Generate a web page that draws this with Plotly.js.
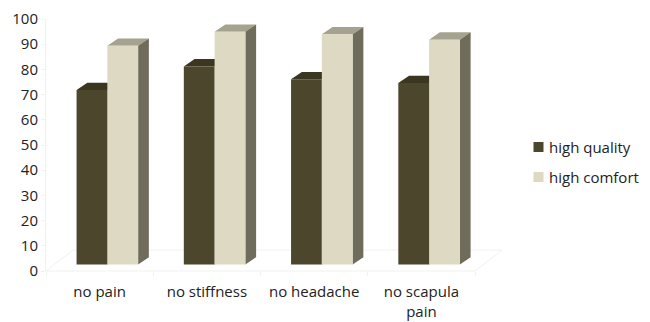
<!DOCTYPE html>
<html>
<head>
<meta charset="utf-8">
<script src="https://cdn.plot.ly/plotly-3.0.1.min.js"></script>
<style>html,body{margin:0;padding:0;background:#fff}#chart{width:650px;height:322px}</style>
</head>
<body>
<div id="chart"></div>
<script>
// Symptom outcomes by group
const categories = ['no pain', 'no stiffness', 'no headache', 'no scapula<br>pain'];
const seriesNames = ['high quality', 'high comfort'];
const highQuality = [69.2, 78.6, 73.5, 72];
const highComfort = [86.8, 92.3, 91.3, 89.2];
const yTicks = [0, 10, 20, 30, 40, 50, 60, 70, 80, 90, 100];

// Pseudo-3D projection, in axis units
const barWidth = 0.287;
const groupShift = 0.072;
const frontRise = 2.6;
const depthX = 0.1;
const depthY = 2.9;
const floorX = 0.252;
const floorY = 8.3;

const faint = '#f1f1f1';
const frontColors = ['#4c462c', '#ddd9c3'];
const centers = categories.map((_, i) => i + 0.5 + groupShift);
const font = {family: 'Open Sans, sans-serif', size: 15, color: '#222'};

function polygon(xs, ys, color) {
  return {x: xs, y: ys, type: 'scatter', mode: 'lines', fill: 'toself', fillcolor: color,
          line: {width: 0, color: color}, showlegend: false, hoverinfo: 'skip', xaxis: 'x', yaxis: 'y'};
}

// Top and side faces of one bar, sitting behind its front face
function faces(left, value, topColor, sideColor) {
  const right = left + barWidth;
  const top = value + frontRise;
  return [
    polygon([left, right, right + depthX, left + depthX, left],
            [top, top, top + depthY, top + depthY, top], topColor),
    polygon([right, right + depthX, right + depthX, right, right],
            [frontRise, frontRise + depthY, top + depthY, top, frontRise], sideColor)
  ];
}

const traces = [];
centers.forEach((c, i) => {
  traces.push(...faces(c - barWidth, highQuality[i], '#3b3620', '#3b3620'));
  traces.push(...faces(c, highComfort[i], '#a5a28f', '#6f6c5c'));
});

// Front faces live on an overlaid axis raised to the front plane of the bars
traces.push({
  type: 'bar', name: seriesNames[0], x: centers, y: highQuality, width: barWidth, offset: -barWidth,
  marker: {color: frontColors[0], line: {width: 0}}, xaxis: 'x', yaxis: 'y2', showlegend: false
});
traces.push({
  type: 'bar', name: seriesNames[1], x: centers, y: highComfort, width: barWidth, offset: 0,
  marker: {color: frontColors[1], line: {width: 0}}, xaxis: 'x', yaxis: 'y2', showlegend: false
});

// The floor runs past the right edge of the plot, so its edges use paper fractions
const floorLine = {color: faint, width: 1};
function floorEdge(x0, y0, x1, y1) {
  return {type: 'line', layer: 'below', xref: 'paper', yref: 'paper',
          x0: x0 / 4, y0: y0 / 100, x1: x1 / 4, y1: y1 / 100, line: floorLine};
}

// Key on the right: swatches plus labels, in fractions of the plot area
const plotW = 429, plotH = 252, plotL = 46, plotT = 19;
const keyX = px => (px - plotL) / plotW;
const keyY = py => 1 - (py - plotT) / plotH;
const keyRows = [147, 177];

const layout = {
  width: 650, height: 322,
  margin: {l: plotL, r: 650 - plotL - plotW, t: plotT, b: 322 - plotT - plotH},
  paper_bgcolor: '#fff', plot_bgcolor: 'rgba(0,0,0,0)',
  font: font,
  barmode: 'overlay',
  showlegend: false,
  xaxis: {
    range: [0, 4], tickmode: 'array', tickvals: categories.map((_, i) => i + 0.5),
    ticktext: categories, ticks: '', showgrid: false, zeroline: false,
    showline: false, fixedrange: true, tickfont: font, ticklabelstandoff: 10,
    minor: {tickmode: 'array', tickvals: [0, 1, 2, 3, 4], ticks: 'outside', ticklen: 4, tickcolor: faint, showgrid: false}
  },
  yaxis: {
    range: [0, 100], tickvals: yTicks, ticks: 'outside', ticklen: 4, tickcolor: faint,
    showline: true, linecolor: faint, showgrid: false, zeroline: false, fixedrange: true, tickfont: font
  },
  yaxis2: {
    range: [-frontRise, 100 - frontRise], overlaying: 'y', side: 'left', visible: false, fixedrange: true
  },
  shapes: [
    floorEdge(0, 0, 4, 0),
    floorEdge(0, 0, floorX, floorY),
    floorEdge(floorX, floorY, 4 + floorX, floorY),
    floorEdge(4, 0, 4 + floorX, floorY)
  ].concat(keyRows.map((row, i) => ({
    type: 'rect', xref: 'paper', yref: 'paper', layer: 'above',
    x0: keyX(533.5), x1: keyX(543.5), y0: keyY(row - 5), y1: keyY(row + 5),
    fillcolor: frontColors[i], line: {width: 0}
  }))),
  annotations: keyRows.map((row, i) => ({
    xref: 'paper', yref: 'paper', x: keyX(548), y: keyY(row), xanchor: 'left', yanchor: 'middle',
    text: seriesNames[i], showarrow: false, font: font, xshift: -1
  }))
};

Plotly.newPlot('chart', traces, layout, {displayModeBar: false, staticPlot: true});
</script>
</body>
</html>
